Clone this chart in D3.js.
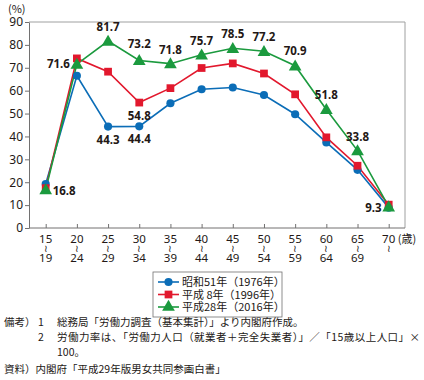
<!DOCTYPE html>
<html>
<head>
<meta charset="utf-8">
<script src="https://cdn.jsdelivr.net/npm/d3@7"></script>
<style>
  body { margin: 0; background: #fff; }
  text { font-family: "Noto Sans CJK JP", "Noto Sans", sans-serif; fill: #231815; }
</style>
</head>
<body>
<div id="chart"></div>
<script>
var ages = ["15", "20", "25", "30", "35", "40", "45", "50", "55", "60", "65", "70"]
var agesTo = ["19", "24", "29", "34", "39", "44", "49", "54", "59", "64", "69", ""]
var s1976 = [19.2, 66.5, 44.3, 44.4, 54.5, 60.6, 61.4, 58.1, 49.7, 37.4, 25.4, 8.9]
var s1996 = [17.4, 74.1, 68.3, 54.8, 61.1, 69.9, 71.9, 67.5, 58.4, 39.6, 27.2, 10.2]
var s2016 = [16.8, 71.6, 81.7, 73.2, 71.8, 75.7, 78.5, 77.2, 70.9, 51.8, 33.8, 9.3]
var seriesNames = ["昭和51年（1976年）", "平成  8年（1996年）", "平成28年（2016年）"]
var yTicks = [0, 10, 20, 30, 40, 50, 60, 70, 80, 90]

var width = 424,
    height = 380
var colors = ["#0b6db7", "#e2182d", "#1b9a3e"]
var shapes = [d3.symbolCircle, d3.symbolSquare, d3.symbolTriangle]
var sizes = [52, 60, 70]

var svg = d3.select("#chart")
  .append("svg")
    .attr("width", width)
    .attr("height", height)

var x = d3.scalePoint().domain(ages).range([45.7, 388.7])
var y = d3.scaleLinear().domain([0, 90]).range([228, 22])
var left = 29, right = 405

// frame
svg.append("path")
  .attr("d", "M" + left + "," + y(90) + "H" + right + "V" + y(0))
  .attr("fill", "none")
  .attr("stroke", "#9fa0a0")
  .attr("stroke-width", 1)

// y axis
var yAxis = svg.append("g")
  .attr("transform", "translate(" + left + ",0)")
  .call(d3.axisLeft(y).tickValues(yTicks).tickSize(4).tickSizeOuter(0))
yAxis.selectAll("path, line").attr("stroke", "#727171")
yAxis.selectAll("text").style("font-size", "12px").attr("x", -6).attr("fill", "#231815")
  .style("font-family", "'Noto Sans', sans-serif")

// x axis
var xAxis = svg.append("g")
  .attr("transform", "translate(0," + y(0) + ")")
  .call(d3.axisBottom(x).tickSize(-4).tickSizeOuter(0).tickFormat(""))
xAxis.select("path").attr("d", "M" + left + ",0H" + right)
xAxis.selectAll("path, line").attr("stroke", "#727171")

// age range labels, one text per tick with three lines
var xl = svg.append("g").selectAll("text")
  .data(ages)
  .enter()
  .append("text")
  .attr("transform", function(d) { return "translate(" + x(d) + "," + y(0) + ")" })
  .attr("text-anchor", "middle")
  .style("font-family", "'Noto Sans', sans-serif")
  .style("font-size", "11.5px")
xl.append("tspan").attr("x", 0).attr("y", 15).text(function(d) { return d })
xl.append("tspan").attr("x", 0).attr("y", 24).style("font-size", "10px").text("≀")
xl.append("tspan").attr("x", 0).attr("y", 34).text(function(d, i) { return agesTo[i] })
svg.append("text").attr("x", x("70") + 9).attr("y", y(0) + 15)
  .style("font-size", "11px").text("(歳)")

svg.append("text").attr("x", 8).attr("y", 13).style("font-size", "11px").text("(%)")

// lines
var all = [s1976, s1996, s2016]
var line = d3.line()
  .x(function(d, i) { return x(ages[i]) })
  .y(function(d) { return y(d) })

all.forEach(function(s, k) {
  svg.append("path")
    .datum(s)
    .attr("d", line)
    .attr("fill", "none")
    .attr("stroke", colors[k])
    .attr("stroke-width", 1.6)
})
all.forEach(function(s, k) {
  svg.append("g").selectAll("path")
    .data(s)
    .enter()
    .append("path")
    .attr("d", d3.symbol().type(shapes[k]).size(sizes[k]))
    .attr("transform", function(d, i) { return "translate(" + x(ages[i]) + "," + (y(d) + (k == 2 ? 1 : 0)) + ")" })
    .attr("fill", colors[k])
})

// value labels: [series, index, dx, dy, anchor]
var labels = [
  [2, 0, 7, 5, "start"], [2, 1, -7, 4, "end"], [2, 2, 0, -10, "middle"],
  [2, 3, 0, -12, "middle"], [2, 4, 0, -10, "middle"], [2, 5, 0, -10, "middle"],
  [2, 6, 0, -10, "middle"], [2, 7, 0, -10, "middle"], [2, 8, 0, -11, "middle"],
  [2, 9, 0, -10, "middle"], [2, 10, 0, -10, "middle"], [2, 11, -7, 5, "end"],
  [0, 2, 0, 17, "middle"], [0, 3, 0, 17, "middle"], [1, 3, 0, 17, "middle"]
]
svg.append("g").selectAll("text")
  .data(labels)
  .enter()
  .append("text")
  .attr("x", function(d) { return x(ages[d[1]]) + d[2] })
  .attr("y", function(d) { return y(all[d[0]][d[1]]) + d[3] })
  .attr("text-anchor", function(d) { return d[4] })
  .style("font-size", "11.5px")
  .style("font-weight", "bold")
  .style("font-family", "'Noto Sans', sans-serif")
  .text(function(d) { return all[d[0]][d[1]].toFixed(1) })

// legend
var lg = svg.append("g").attr("transform", "translate(153,272)")
lg.append("rect").attr("width", 129).attr("height", 45)
  .attr("fill", "#fff").attr("stroke", "#727171").attr("stroke-width", 0.8)
seriesNames.forEach(function(n, k) {
  var yy = 10 + k * 12.5
  lg.append("line").attr("x1", 5).attr("x2", 26).attr("y1", yy).attr("y2", yy)
    .attr("stroke", colors[k]).attr("stroke-width", 1.6)
  lg.append("path").attr("d", d3.symbol().type(shapes[k]).size(sizes[k]))
    .attr("transform", "translate(15.5," + yy + ")").attr("fill", colors[k])
  lg.append("text").attr("x", 29).attr("y", yy + 4).style("font-size", "11px").text(n)
})

// notes
var notes = svg.append("g").style("font-size", "10.5px")
notes.append("text").attr("x", 4).attr("y", 326).text("備考）")
notes.append("text").attr("x", 38).attr("y", 326).text("1")
notes.append("text").attr("x", 57).attr("y", 326).text("総務局「労働力調査（基本集計）」より内閣府作成。")
notes.append("text").attr("x", 38).attr("y", 341).text("2")
notes.append("text").attr("x", 57).attr("y", 341).attr("textLength", 363)
  .text("労働力率は、「労働力人口（就業者＋完全失業者）」／「15歳以上人口」×")
notes.append("text").attr("x", 57).attr("y", 356).text("100。")
notes.append("text").attr("x", 4).attr("y", 373).text("資料）内閣府「平成29年版男女共同参画白書」")
</script>
</body>
</html>
